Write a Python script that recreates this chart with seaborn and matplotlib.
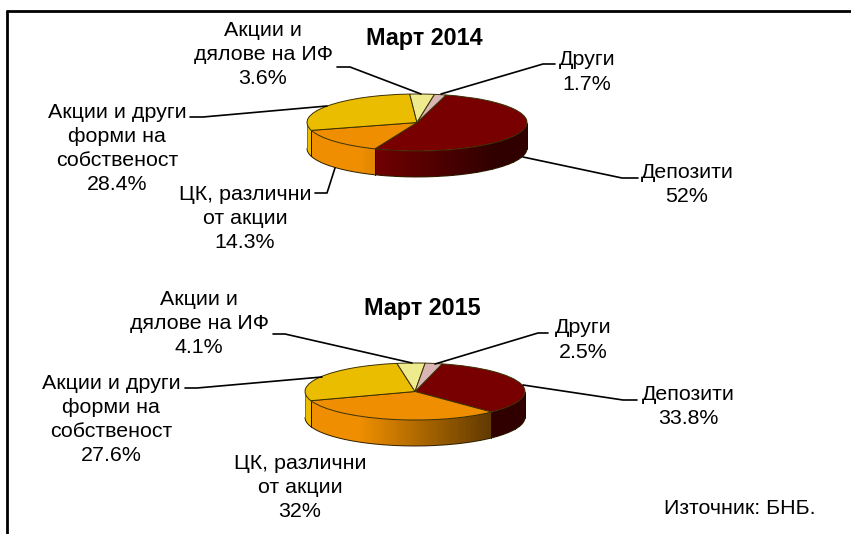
import matplotlib
matplotlib.use("Agg")
import matplotlib.pyplot as plt
import seaborn as sns
import numpy as np

sns.set_theme(style="white")
plt.rcParams['font.family'] = ['Liberation Sans', 'DejaVu Sans']

labels = ["Депозити", "ЦК, различни\nот акции", "Акции и други\nформи на\nсобственост",
          "Акции и\nдялове на ИФ", "Други"]
values_2014 = [52, 14.3, 28.4, 3.6, 1.7]
values_2015 = [33.8, 32, 27.6, 4.1, 2.5]
colors = sns.color_palette(["#780000", "#EE8E00", "#EBBD00", "#EDEB8E", "#D9B5B5"])

W, H = 851, 534
DEPTH = 26
RX, RY = 110, 28.5
FS = 15.4

fig = plt.figure(figsize=(W / 100, H / 100), dpi=100)
bg = fig.add_axes([0, 0, 1, 1], zorder=3)
bg.set_xlim(0, W)
bg.set_ylim(H, 0)
bg.axis('off')
bg.patch.set_alpha(0)


def shade(x):
    # wall gets darker towards the right side of the pie
    return np.interp(x, [-0.5, 0.7], [1.0, 0.4])


def pie3d(values, cx, cy, start):
    d = DEPTH / RY
    ax = fig.add_axes([(cx - RX) / W, 1 - (cy + RY + DEPTH) / H, 2 * RX / W, (2 * RY + DEPTH) / H], zorder=1)
    wedges, _ = ax.pie(values, colors=colors, startangle=90 - start, counterclock=False,
                       wedgeprops=dict(edgecolor="#3a3000", linewidth=0.7, zorder=5))
    ax.set_aspect('auto')
    ax.set_xlim(-1, 1)
    ax.set_ylim(-1 - d, 1)
    for w, c in zip(wedges, colors):
        ang = np.radians(np.append(np.arange(w.theta1, w.theta2, 1.0), w.theta2))
        ang = ang[np.sin(ang) <= 0.001]
        if len(ang) < 2:
            continue
        x = np.cos(ang)
        y = np.sin(ang)
        mid = (x[:-1] + x[1:]) / 2
        rgb = np.outer(shade(mid), np.array(c))[np.newaxis, :, :]
        ax.pcolormesh(np.vstack([x, x]), np.vstack([y, y - d]), rgb, shading='flat', zorder=2)
        for a in (ang[0], ang[-1]):
            ax.plot([np.cos(a)] * 2, [np.sin(a), np.sin(a) - d], color="#201000", lw=0.7, zorder=3)
    t = np.linspace(np.pi, 2 * np.pi, 200)
    ax.plot(np.cos(t), np.sin(t) - d, color="#302000", lw=0.7, zorder=4, clip_on=False)
    ax.plot([-1, -1], [0, -d], color="#8a7a20", lw=0.7, zorder=4, clip_on=False)
    ax.plot([1, 1], [0, -d], color="#100000", lw=0.7, zorder=4, clip_on=False)
    ax.set_xlim(-1, 1)
    ax.set_ylim(-1 - d, 1)
    ax.axis('off')


pie3d(values_2014, 417, 122.5, 15.3)
pie3d(values_2015, 415, 391.5, 14.3)

# frame
bg.plot([7, 7], [H, 11], color="black", lw=2)
bg.plot([7, W], [11, 11], color="black", lw=2)

bg.text(424, 38.5, "Март 2014", fontsize=16.8, fontweight='bold', ha='center', va='center', color='black')
bg.text(422, 308.5, "Март 2015", fontsize=16.8, fontweight='bold', ha='center', va='center', color='black')
bg.text(664, 509, "Източник: БНБ.", fontsize=FS, ha='left', va='center', color='black')


def put(i, values, x, y):
    bg.text(x, y, f"{labels[i]}\n{values[i]:g}%", fontsize=FS, ha='center', va='center',
            linespacing=1.34, multialignment='center', color='black')


for i, (x, y) in enumerate([(687, 184.5), (245, 218.5), (117, 148.5), (263, 54.5), (587, 72)]):
    put(i, values_2014, x, y)
for i, (x, y) in enumerate([(688, 406.5), (300, 487.5), (111, 419.5), (199, 323.5), (583, 340)]):
    put(i, values_2015, x, y)

leaders = [
    ([523, 622, 638], [157, 178, 178]),
    ([335, 327, 315], [168, 193, 193]),
    ([327, 203, 190], [106, 117, 117]),
    ([421, 350, 337], [94, 67, 67]),
    ([441, 543, 555], [94, 64, 64]),
    ([523, 623, 637], [385, 400, 400]),
    ([322, 197, 185], [377, 388, 388]),
    ([412, 285, 273], [363, 334, 334]),
    ([435, 538, 548], [364, 333, 333]),
]
for xs, ys in leaders:
    bg.plot(xs, ys, color="black", lw=1.2, solid_joinstyle='round')

fig.savefig("out.png", dpi=100)
